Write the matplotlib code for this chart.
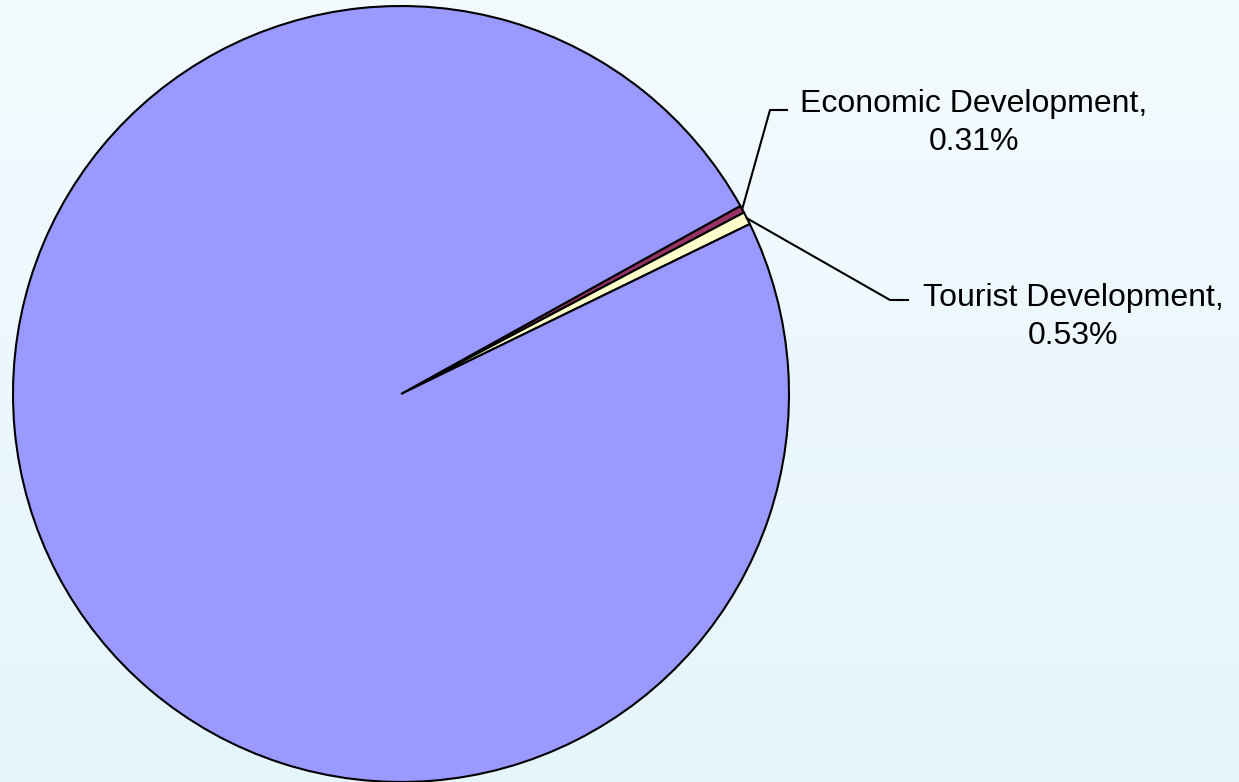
import numpy as np
import matplotlib.pyplot as plt

plt.rcParams["font.family"] = ["Liberation Sans", "DejaVu Sans"]

labels = ["Economic Development", "Tourist Development", "Other"]
shares = [0.31, 0.53, 99.16]
colors = ["#993366", "#FFFFCC", "#9999FF"]
shown = [True, True, False]

W, H = 1239, 782
fig = plt.figure(figsize=(W / 100, H / 100), dpi=100)

# soft vertical background gradient
bg = fig.add_axes([0, 0, 1, 1], zorder=0)
grad = np.linspace(0, 1, 256).reshape(-1, 1)
top, bot = np.array([0xF3, 0xFA, 0xFE]) / 255, np.array([0xE5, 0xF5, 0xFC]) / 255
img = top + (bot - top) * grad[..., None]
bg.imshow(img, aspect="auto", extent=[0, 1, 0, 1], origin="upper")
bg.axis("off")

ax = fig.add_axes([0, 0, 1, 1], zorder=1)
ax.patch.set_alpha(0)

cx, cy, r = 401, 394, 388
wedges, _ = ax.pie(shares, colors=colors, startangle=-29, counterclock=True,
                   center=(cx, cy), radius=r,
                   wedgeprops=dict(edgecolor="black", linewidth=1.5))
ax.set_xlim(0, W)
ax.set_ylim(H, 0)
ax.set_aspect("equal")
ax.axis("off")

# label positions: (elbow x, elbow y, line end x, text x, text y)
spots = [(770, 110, 787, 974, 123), (890, 300, 908, 1073, 317)]
for w, lab, val, on, sp in zip(wedges, labels, shares, shown, spots):
    if not on:
        continue
    mid = np.deg2rad((w.theta1 + w.theta2) / 2)
    # y axis is flipped, so angles run clockwise on screen
    x0, y0 = cx + r * np.cos(mid), cy + r * np.sin(mid)
    ex, ey, lx, tx, ty = sp
    ax.plot([x0, ex, lx], [y0, ey, ey], color="black", lw=1.5)
    ax.text(tx, ty, f"{lab},\n{val:.2f}%", ha="center", va="center",
            fontsize=23, linespacing=1.36, color="black")

fig.savefig("out.png", dpi=100)
